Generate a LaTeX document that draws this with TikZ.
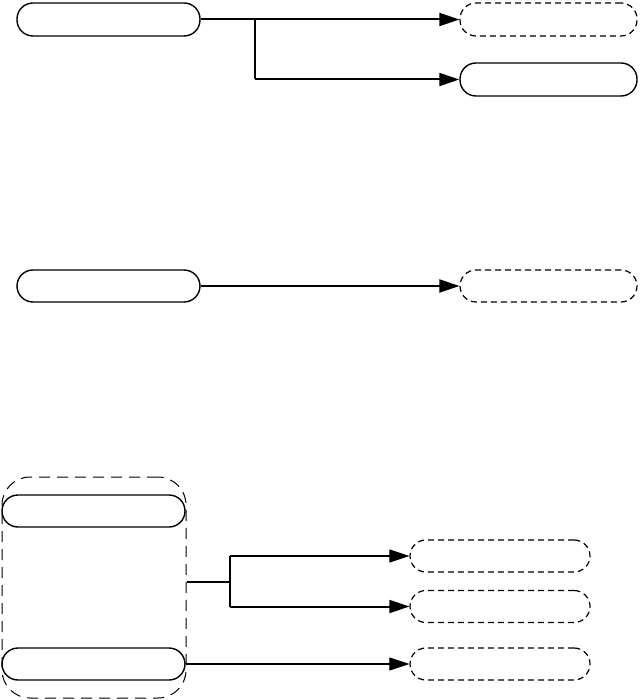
\documentclass[tikz,border=0pt]{standalone}
\usetikzlibrary{arrows.meta}
\begin{document}
\begin{tikzpicture}[x=1pt,y=-1pt,
  pill/.style={draw=black,line width=1.4pt,rounded corners=16pt,minimum width=183pt,minimum height=33pt,inner sep=0pt},
  dpill/.style={pill,line width=1.2pt,dash pattern=on 6pt off 4pt},
  grpbox/.style={draw=black,line width=1pt,rounded corners=28pt,dash pattern=on 11pt off 7pt,inner sep=0pt},
  tip/.style={-{Triangle[length=20pt,width=13pt]}},
  thick1/.style={line width=2pt},
  thin1/.style={line width=1.1pt}]
\useasboundingbox (0,0) rectangle (642,700);
% top group
\node[pill] (a1) at (108.5,19.5) {};
\node[dpill,minimum width=177pt] (b1) at (548.5,19.5) {};
\node[pill,minimum width=177pt] (c1) at (548.5,79.5) {};
\coordinate (j1) at (255,19.5);
\draw[thick1,tip] (a1.east) -- (b1.west);
\draw[thin1] (j1) -- (j1 |- c1.west);
\draw[thick1,tip] (j1 |- c1.west) -- (c1.west);
% middle
\node[pill,minimum height=32pt] (a2) at (108.5,286) {};
\node[dpill,minimum width=177pt,minimum height=32pt] (b2) at (548.5,286) {};
\draw[thick1,tip] (a2.east) -- (b2.west);
% bottom
\node[grpbox,minimum width=184pt,minimum height=221pt] (grp) at (94,587.5) {};
\node[pill,minimum width=183pt,minimum height=32pt] (a3) at (93.5,511) {};
\node[pill,minimum width=183pt,minimum height=32pt] (a4) at (93.5,664) {};
\node[dpill,minimum width=180pt,minimum height=32pt] (b3) at (500,556) {};
\node[dpill,minimum width=180pt,minimum height=32pt] (b4) at (500,606.5) {};
\node[dpill,minimum width=180pt,minimum height=32pt] (b5) at (500,664) {};
\coordinate (s) at (grp.east |- 0,582);
\coordinate (j2) at (230,582);
\draw[thick1] (s) -- (j2);
\draw[thin1] (j2 |- b3.west) -- (j2 |- b4.west);
\draw[thin1,tip] (j2 |- b3.west) -- (b3.west);
\draw[thick1,tip] (j2 |- b4.west) -- (b4.west);
\draw[thin1,tip] (a4.east) -- (b5.west);
\end{tikzpicture}
\end{document}
